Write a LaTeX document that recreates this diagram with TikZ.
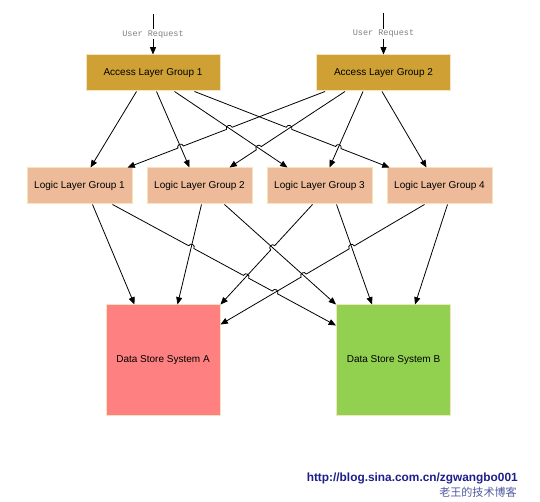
\documentclass[tikz,border=0pt]{standalone}
\usepackage{fontspec}
\setmainfont{Liberation Sans}
\newfontfamily\monof{Liberation Mono}
\newfontfamily\cjkf{Noto Sans CJK SC}
\usetikzlibrary{arrows.meta,calc}
\definecolor{accfill}{RGB}{207,160,51}
\definecolor{logfill}{RGB}{237,187,153}
\definecolor{dafill}{RGB}{255,128,128}
\definecolor{dbfill}{RGB}{146,208,80}
\definecolor{boxline}{RGB}{245,228,190}
\definecolor{urlblue}{RGB}{30,30,140}
\definecolor{cjkblue}{RGB}{80,90,160}
% hop over a crossing: #1 start, #2 end, #3 crossing, #4/#5 rotation angles
\newcommand\hopat[5]{-- ($(#3)!2.25pt!(#1)$) .. controls ($(#3)!2.25pt!(#1)!3pt!#4:(#3)$) and ($(#3)!2.25pt!(#2)!3pt!#5:(#3)$) .. ($(#3)!2.25pt!(#2)$)}
\tikzset{
  boxfont/.style={font=\fontsize{7.5}{9}\selectfont},
  accbox/.style={boxfont, draw=boxline, line width=0.75pt, fill=accfill, minimum width=100.5pt, minimum height=27pt, inner sep=0pt},
  logbox/.style={boxfont, draw=boxline, line width=0.75pt, fill=logfill, minimum width=78.75pt, minimum height=27pt, inner sep=0pt},
  databox/.style={boxfont, draw=boxline, line width=0.75pt, minimum width=85.5pt, minimum height=83.25pt, inner sep=0pt},
  conn/.style={draw=black, line width=0.6pt, -{Triangle[length=5.5pt,width=4.5pt]}},
  ureq/.style={fill=white, inner sep=1pt, text=gray, font=\monof\fontsize{6.4}{7}\selectfont}
}
\begin{document}
\begin{tikzpicture}[x=0.75pt,y=-0.75pt]
\useasboundingbox[fill=white] (0,0) rectangle (540,502);

% nodes
\node[accbox] (acc1) at (153,73) {Access Layer Group 1};
\node[accbox] (acc2) at (383.5,73) {Access Layer Group 2};
\node[logbox] (log1) at (79.5,186) {Logic Layer Group 1};
\node[logbox] (log2) at (199.5,186) {Logic Layer Group 2};
\node[logbox] (log3) at (319.5,186) {Logic Layer Group 3};
\node[logbox] (log4) at (439.5,186) {Logic Layer Group 4};
\node[databox, fill=dafill] (dsa) at (163,360.5) {Data Store System A};
\node[databox, fill=dbfill] (dsb) at (393.5,360.5) {Data Store System B};

% user requests
\coordinate (u1) at (153,14);
\coordinate (u2) at (383.5,13);
\draw[conn] (u1) -- node[ureq] (ur1) {User Request} (acc1.north);
\draw[conn] (u2) -- node[ureq] (ur2) {User Request} (acc2.north);

% endpoints, upper level
\coordinate (a1s) at ($(acc1.south west)+(51,0)$);
\coordinate (a2s) at ($(acc1.south west)+(71,0)$);
\coordinate (a3s) at ($(acc1.south west)+(89,0)$);
\coordinate (a4s) at ($(acc1.south west)+(109,0)$);
\coordinate (b1s) at ($(acc2.south west)+(9,0)$);
\coordinate (b2s) at ($(acc2.south west)+(29,0)$);
\coordinate (b3s) at ($(acc2.south west)+(47,0)$);
\coordinate (b4s) at ($(acc2.south west)+(66,0)$);
\coordinate (a1e) at ($(log1.north west)+(64,0)$);
\coordinate (b1e) at ($(log1.north west)+(101,0)$);
\coordinate (a2e) at ($(log2.north west)+(43,0)$);
\coordinate (b2e) at ($(log2.north west)+(83,0)$);
\coordinate (a3e) at ($(log3.north west)+(21,0)$);
\coordinate (b3e) at ($(log3.north west)+(63,0)$);
\coordinate (a4e) at ($(log4.north west)+(3,0)$);
\coordinate (b4e) at ($(log4.north west)+(40,0)$);

% endpoints, lower level
\coordinate (c1s) at ($(log1.south west)+(66,0)$);
\coordinate (c2s) at ($(log1.south west)+(86,0)$);
\coordinate (d1s) at ($(log2.south west)+(55,0)$);
\coordinate (d2s) at ($(log2.south west)+(78,0)$);
\coordinate (e1s) at ($(log3.south west)+(46,0)$);
\coordinate (e2s) at ($(log3.south west)+(70,0)$);
\coordinate (f1s) at ($(log4.south west)+(38,0)$);
\coordinate (f2s) at ($(log4.south west)+(61,0)$);
\coordinate (c1e) at ($(dsa.north west)+(29,0)$);
\coordinate (d1e) at ($(dsa.north west)+(72,0)$);
\coordinate (e1e) at (dsa.north east);
\coordinate (f1e) at ($(dsa.north east)+(0,20)$);
\coordinate (c2e) at ($(dsb.north west)+(0,21)$);
\coordinate (d2e) at (dsb.north west);
\coordinate (e2e) at ($(dsb.north west)+(36,0)$);
\coordinate (f2e) at ($(dsb.north west)+(79,0)$);

% crossings
\coordinate (xb1a3) at (intersection of b1s--b1e and a3s--a3e);
\coordinate (xb1a2) at (intersection of b1s--b1e and a2s--a2e);
\coordinate (xb2a3) at (intersection of b2s--b2e and a3s--a3e);
\coordinate (xa4b2) at (intersection of a4s--a4e and b2s--b2e);
\coordinate (xa4b3) at (intersection of a4s--a4e and b3s--b3e);
\coordinate (xc2d1) at (intersection of c2s--c2e and d1s--d1e);
\coordinate (xc2e1) at (intersection of c2s--c2e and e1s--e1e);
\coordinate (xc2f1) at (intersection of c2s--c2e and f1s--f1e);
\coordinate (xe1d2) at (intersection of e1s--e1e and d2s--d2e);
\coordinate (xf1e2) at (intersection of f1s--f1e and e2s--e2e);
\coordinate (xf1d2) at (intersection of f1s--f1e and d2s--d2e);

% upper connectors
\draw[conn] (a1s) -- (a1e);
\draw[conn] (a2s) -- (a2e);
\draw[conn] (a3s) -- (a3e);
\draw[conn] (b3s) -- (b3e);
\draw[conn] (b4s) -- (b4e);
\draw[conn] (b1s) \hopat{b1s}{b1e}{xb1a3}{-90}{90} \hopat{b1s}{b1e}{xb1a2}{-90}{90} -- (b1e);
\draw[conn] (b2s) \hopat{b2s}{b2e}{xb2a3}{-90}{90} -- (b2e);
\draw[conn] (a4s) \hopat{a4s}{a4e}{xa4b2}{90}{-90} \hopat{a4s}{a4e}{xa4b3}{90}{-90} -- (a4e);

% lower connectors
\draw[conn] (c1s) -- (c1e);
\draw[conn] (d1s) -- (d1e);
\draw[conn] (d2s) -- (d2e);
\draw[conn] (e2s) -- (e2e);
\draw[conn] (f2s) -- (f2e);
\draw[conn] (e1s) \hopat{e1s}{e1e}{xe1d2}{-90}{90} -- (e1e);
\draw[conn] (f1s) \hopat{f1s}{f1e}{xf1e2}{-90}{90} \hopat{f1s}{f1e}{xf1d2}{-90}{90} -- (f1e);
\draw[conn] (c2s) \hopat{c2s}{c2e}{xc2d1}{90}{-90} \hopat{c2s}{c2e}{xc2e1}{90}{-90} \hopat{c2s}{c2e}{xc2f1}{90}{-90} -- (c2e);

% watermark
\node[anchor=east, inner sep=0pt, text=urlblue, font=\bfseries\fontsize{8.9}{10}\selectfont] (url) at (518,478) {http://blog.sina.com.cn/zgwangbo001};
\node[anchor=east, inner sep=0pt, text=cjkblue, font=\cjkf\fontsize{8.3}{9}\selectfont] (blog) at (517,492) {老王的技术博客};
\end{tikzpicture}
\end{document}
